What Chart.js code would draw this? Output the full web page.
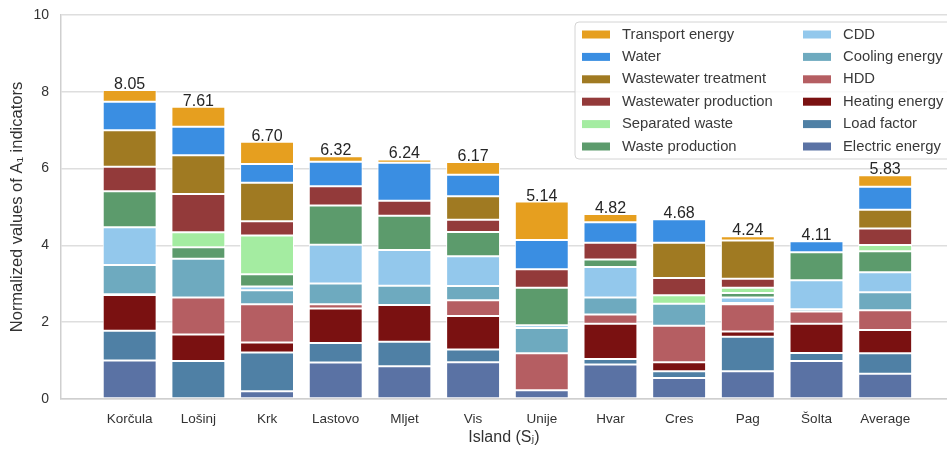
<!DOCTYPE html>
<html>
<head>
<meta charset="utf-8">
<script src="https://cdn.jsdelivr.net/npm/chart.js@4.4.1/dist/chart.umd.min.js"></script>
<style>
  html, body { margin: 0; padding: 0; background: #ffffff; }
  #wrap { width: 947px; height: 450px; position: relative; }
</style>
</head>
<body>
<div id="wrap"><canvas id="chart" width="947" height="450"></canvas></div>
<script>
// Islands (plus the overall average) along the x axis
const islands = ['Korčula', 'Lošinj', 'Krk', 'Lastovo', 'Mljet', 'Vis', 'Unije', 'Hvar', 'Cres', 'Pag', 'Šolta', 'Average'];

// Normalized A1 indicator values per island, stacked from the bottom up
const electricEnergy       = [1.00, 0.00, 0.20, 0.95, 0.85, 0.96, 0.23, 0.90, 0.55, 0.72, 0.99, 0.66];
const loadFactor           = [0.78, 0.99, 1.01, 0.51, 0.64, 0.33, 0.00, 0.14, 0.17, 0.90, 0.21, 0.53];
const heatingEnergy        = [0.93, 0.69, 0.26, 0.90, 0.96, 0.87, 0.00, 0.92, 0.24, 0.14, 0.76, 0.61];
const hdd                  = [0.02, 0.96, 1.00, 0.11, 0.00, 0.41, 0.96, 0.24, 0.95, 0.71, 0.32, 0.51];
const coolingEnergy        = [0.76, 1.01, 0.36, 0.54, 0.50, 0.37, 0.66, 0.44, 0.57, 0.03, 0.06, 0.47];
const cdd                  = [0.98, 0.00, 0.10, 1.01, 0.93, 0.78, 0.07, 0.80, 0.00, 0.14, 0.75, 0.52];
const wasteProduction      = [0.94, 0.30, 0.32, 1.02, 0.89, 0.63, 0.98, 0.19, 0.00, 0.12, 0.73, 0.55];
const separatedWaste       = [0.00, 0.39, 1.01, 0.00, 0.00, 0.00, 0.00, 0.00, 0.22, 0.14, 0.00, 0.16];
const wastewaterProduction = [0.64, 1.00, 0.37, 0.50, 0.39, 0.32, 0.48, 0.44, 0.45, 0.23, 0.00, 0.43];
const wastewaterTreatment  = [0.95, 1.01, 1.00, 0.00, 0.00, 0.61, 0.00, 0.00, 0.92, 1.00, 0.00, 0.49];
const water                = [0.74, 0.74, 0.49, 0.64, 0.99, 0.56, 0.76, 0.53, 0.61, 0.00, 0.29, 0.60];
const transportEnergy      = [0.31, 0.52, 0.58, 0.14, 0.09, 0.33, 1.00, 0.22, 0.00, 0.11, 0.00, 0.30];

// Y axis ticks
const yTicks = [0, 2, 4, 6, 8, 10];

const series = [
  { label: 'Electric energy',       values: electricEnergy,       color: '#5a72a4' },
  { label: 'Load factor',           values: loadFactor,           color: '#4f80a5' },
  { label: 'Heating energy',        values: heatingEnergy,        color: '#7a1111' },
  { label: 'HDD',                   values: hdd,                  color: '#b55e62' },
  { label: 'Cooling energy',        values: coolingEnergy,        color: '#6eaabf' },
  { label: 'CDD',                   values: cdd,                  color: '#93c8ec' },
  { label: 'Waste production',      values: wasteProduction,      color: '#5c9b6c' },
  { label: 'Separated waste',       values: separatedWaste,       color: '#a4eca1' },
  { label: 'Wastewater production', values: wastewaterProduction, color: '#933a3a' },
  { label: 'Wastewater treatment',  values: wastewaterTreatment,  color: '#a07a22' },
  { label: 'Water',                 values: water,                color: '#3a8ee2' },
  { label: 'Transport energy',      values: transportEnergy,      color: '#e69f1f' }
];

const FONT = '"Liberation Sans", Arial, "DejaVu Sans", sans-serif';
const TEXT = '#333333';

// Totals written above each stacked bar
const totalLabels = {
  id: 'totalLabels',
  afterDatasetsDraw(chart) {
    const { ctx, scales: { x, y } } = chart;
    ctx.save();
    ctx.font = '16px ' + FONT;
    ctx.fillStyle = '#262626';
    ctx.textAlign = 'center';
    ctx.textBaseline = 'alphabetic';
    islands.forEach((_, i) => {
      let total = 0;
      chart.data.datasets.forEach(ds => { total += ds.data[i].y; });
      total = Math.round(total * 100) / 100;
      ctx.fillText(total.toFixed(2), x.getPixelForValue(i), y.getPixelForValue(total) - 1);
    });
    ctx.restore();
  }
};

// Two-column legend in the upper right corner (top of stack listed first)
const columnLegend = {
  id: 'columnLegend',
  afterDraw(chart) {
    const { ctx } = chart;
    const items = chart.data.datasets.slice().reverse();
    const boxX = 575, boxY = 22, boxW = 380, boxH = 137, r = 4;
    ctx.save();
    ctx.beginPath();
    ctx.moveTo(boxX + r, boxY);
    ctx.lineTo(boxX + boxW - r, boxY);
    ctx.arcTo(boxX + boxW, boxY, boxX + boxW, boxY + r, r);
    ctx.lineTo(boxX + boxW, boxY + boxH - r);
    ctx.arcTo(boxX + boxW, boxY + boxH, boxX + boxW - r, boxY + boxH, r);
    ctx.lineTo(boxX + r, boxY + boxH);
    ctx.arcTo(boxX, boxY + boxH, boxX, boxY + boxH - r, r);
    ctx.lineTo(boxX, boxY + r);
    ctx.arcTo(boxX, boxY, boxX + r, boxY, r);
    ctx.closePath();
    ctx.fillStyle = 'rgba(255,255,255,0.82)';
    ctx.fill();
    ctx.strokeStyle = '#d4d4d4';
    ctx.lineWidth = 1;
    ctx.stroke();

    ctx.font = '14.8px ' + FONT;
    ctx.textBaseline = 'middle';
    ctx.textAlign = 'left';
    const perCol = 6, rowH = 22.4, firstRow = 34.5;
    const cols = [{ sw: 582, tx: 622 }, { sw: 803, tx: 843 }];
    items.forEach((ds, k) => {
      const col = cols[Math.floor(k / perCol)];
      const row = k % perCol;
      const cy = firstRow + row * rowH;
      ctx.fillStyle = ds.backgroundColor;
      ctx.fillRect(col.sw, cy - 4, 28, 8);
      ctx.fillStyle = '#3a3a3a';
      ctx.fillText(ds.label, col.tx, cy);
    });
    ctx.restore();
  }
};

new Chart(document.getElementById('chart'), {
  type: 'bar',
  data: {
    datasets: series.map(s => ({
      label: s.label,
      data: s.values.map((v, i) => ({ x: i, y: v })),
      backgroundColor: s.color,
      borderColor: '#ffffff',
      borderWidth: 1,
      borderSkipped: false,
      barPercentage: 0.785,
      categoryPercentage: 1.0
    }))
  },
  options: {
    responsive: false,
    animation: false,
    devicePixelRatio: 1,
    layout: { padding: { top: 15, right: 0, left: 0, bottom: 0 } },
    plugins: {
      legend: { display: false },
      tooltip: { enabled: false }
    },
    scales: {
      x: {
        type: 'linear',
        stacked: true,
        offset: false,
        min: -1.0,
        max: 11.9,
        afterBuildTicks(scale) {
          scale.ticks = islands.map((_, i) => ({ value: i }));
        },
        afterFit(scale) {
          scale.height = 51;
          scale.paddingLeft = 0;
          scale.paddingRight = 0;
        },
        grid: { display: false, drawTicks: false, offset: false },
        border: { display: true, color: '#cfcfcf', width: 1.5 },
        ticks: {
          autoSkip: false,
          maxRotation: 0,
          padding: 12,
          color: TEXT,
          font: { family: FONT, size: 13.5 },
          callback: (v) => islands[v]
        },
        title: {
          display: true,
          text: 'Island (Sⱼ)',
          color: TEXT,
          font: { family: FONT, size: 16 },
          padding: { top: 0, bottom: 3 }
        }
      },
      y: {
        stacked: true,
        min: 0,
        max: 10,
        afterBuildTicks(scale) {
          scale.ticks = yTicks.map(v => ({ value: v }));
        },
        afterFit(scale) {
          scale.width = 61;
          scale.paddingTop = 0;
          scale.paddingBottom = 0;
        },
        grid: { color: '#dedede', lineWidth: 1.5, drawTicks: false },
        border: { display: true, color: '#cfcfcf', width: 1.5 },
        ticks: {
          padding: 12,
          color: TEXT,
          font: { family: FONT, size: 14 }
        },
        title: {
          display: true,
          text: 'Normalized values of A₁ indicators',
          color: TEXT,
          font: { family: FONT, size: 16.5 },
          padding: { top: 8, bottom: 0 }
        }
      }
    }
  },
  plugins: [totalLabels, columnLegend]
});
</script>
</body>
</html>
